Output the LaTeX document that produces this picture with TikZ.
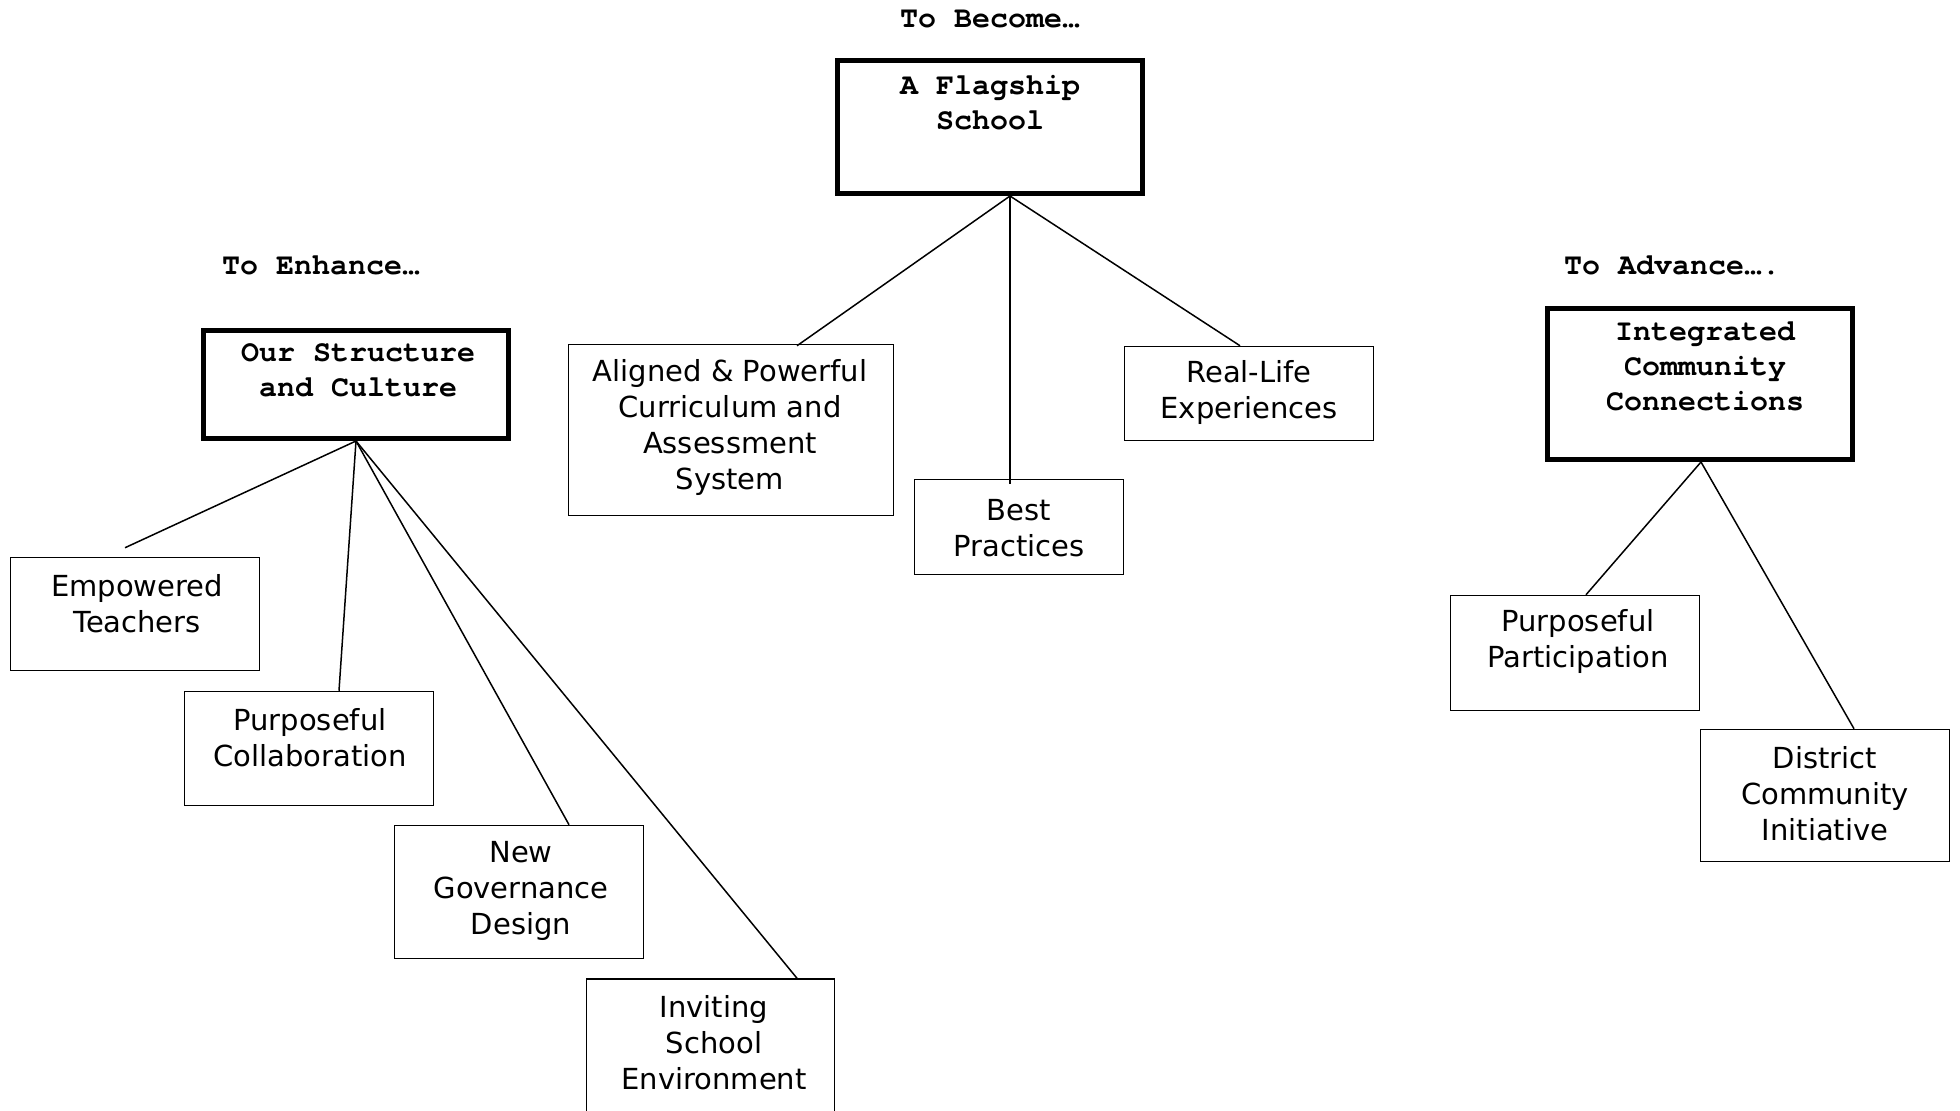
\documentclass[tikz,border=0pt]{standalone}
\usepackage{fontspec}
\setmainfont{DejaVu Sans}
\setmonofont{TeX Gyre Cursor}
\usetikzlibrary{calc}
\tikzstyle{edge}=[
	-,
	draw=black,
	line width=0.75pt
]
\tikzstyle{sbox}=[
	rectangle,
	draw=black,
	line width=0.75pt,
	inner sep=0pt
]
\tikzstyle{hbox}=[
	sbox,
	line width=2.5pt
]
\tikzstyle{stxt}=[
	align=center,
	inner sep=0pt,
	font=\fontsize{14.5}{18}\selectfont
]
\tikzstyle{htxt}=[
	align=center,
	inner sep=0pt,
	font=\fontsize{15}{17.5}\selectfont\ttfamily\bfseries
]

\begin{document}
\begin{tikzpicture}[x=0.5pt, y=0.5pt]
\useasboundingbox (0,0) rectangle (1960,1110);

% headings
\node[htxt] (become) at (990,1091) {To Become…};
\node[htxt] (enhance) at (321,845) {To Enhance…};
\node[htxt] (advance) at (1672,845) {To Advance….};

% main boxes
\foreach \nm/\x/\y/\w/\h/\tx/\ty/\txt in {
    flag/990/983/305/133/990/1007/{A Flagship\\School},
    struct/356/725.5/305/108/358/740/{Our Structure\\and Culture},
    integ/1700/726/305/151/1705/744/{Integrated\\Community\\Connections}}{
    \node[hbox, minimum width=\w*0.5pt, minimum height=\h*0.5pt] (\nm) at (\x,\y) {};
    \node[htxt] (\nm-t) at (\tx,\ty) {\txt};
}

% sub boxes
\foreach \nm/\x/\y/\w/\h/\tx/\ty/\txt in {
    align/731/680/325/171/730/682/{Aligned \& Powerful\\Curriculum and\\Assessment\\System},
    best/1019/583/209/95/1019/582/{Best\\Practices},
    real/1249/716.5/249/94/1249/717/{Real-Life\\Experiences},
    emp/135/496/249/113/137/506/{Empowered\\Teachers},
    pcol/309/361.5/249/114/310/372/{Purposeful\\Collaboration},
    gov/519/218/249/133/521/219/{New\\Governance\\Design},
    inv/710.5/52/248/158/714/67/{Inviting\\School\\Environment},
    ppart/1575/457/249/115/1578/469/{Purposeful\\Participation},
    dist/1825/314.5/249/132/1825/316/{District\\Community\\Initiative}}{
    \node[sbox, minimum width=\w*0.5pt, minimum height=\h*0.5pt] (\nm) at (\x,\y) {};
    \node[stxt] (\nm-t) at (\tx,\ty) {\txt};
}

% connectors
\foreach \src/\sx/\dst/\dx/\dy in {flag/20/align/66/-2, flag/20/best/-9/-5,
    flag/20/real/-9/0, struct/0/emp/-10/9, struct/0/pcol/30/0,
    struct/0/gov/50/0, struct/0/inv/86.5/0, integ/1/ppart/11/0,
    integ/1/dist/29/0}{
    \draw[edge] ($(\src.south)+(\sx,0)$) to ($(\dst.north)+(\dx,\dy)$);
}

\end{tikzpicture}
\end{document}
